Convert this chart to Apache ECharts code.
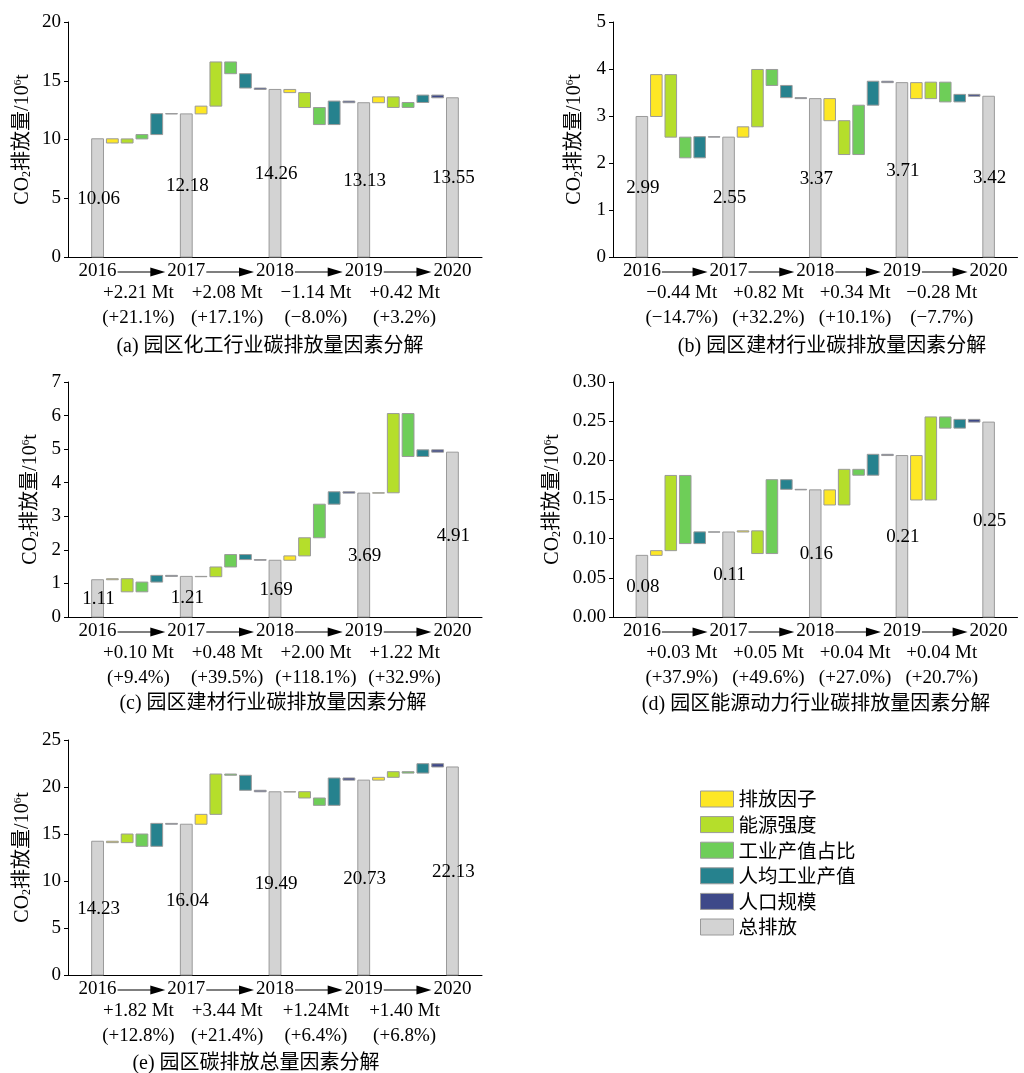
<!DOCTYPE html>
<html>
<head>
<meta charset="utf-8">
<script src="https://cdn.jsdelivr.net/npm/echarts@6/dist/echarts.min.js"></script>
<style>
  html, body { margin: 0; padding: 0; background: #fff; }
  #chart { width: 1024px; height: 1073px; }
</style>
</head>
<body>
<div id="chart"></div>
<script>
const FONT = '"Liberation Serif", "Times New Roman", "Noto Sans CJK SC", serif';

const factorNames = ['排放因子', '能源强度', '工业产值占比', '人均工业产值', '人口规模'];
const factorColors = ['#fde725', '#b5de2b', '#6ece58', '#26828e', '#3e4989'];
const totalName = '总排放';
const totalColor = '#d3d3d3';
const years = ['2016', '2017', '2018', '2019', '2020'];

// (a) chemical industry
const totalsA = [10.06, 12.18, 14.26, 13.13, 13.55];
const factorsA = [
  [-0.36, 0.35, 0.37, 1.78, -0.02],
  [0.66, 3.76, -1.00, -1.22, -0.12],
  [-0.27, -1.27, -1.45, 2.00, -0.14],
  [0.50, -0.90, 0.42, 0.63, -0.23]
];
const changeA = ['+2.21 Mt', '+2.08 Mt', '−1.14 Mt', '+0.42 Mt'];
const pctA = ['(+21.1%)', '(+17.1%)', '(−8.0%)', '(+3.2%)'];

// (b) building materials
const totalsB = [2.99, 2.55, 3.37, 3.71, 3.42];
const factorsB = [
  [0.89, -1.33, -0.44, 0.45, -0.01],
  [0.22, 1.22, -0.34, -0.26, -0.02],
  [-0.47, -0.72, 1.05, 0.51, -0.03],
  [-0.34, 0.35, -0.42, 0.16, -0.04]
];
const changeB = ['−0.44 Mt', '+0.82 Mt', '+0.34 Mt', '−0.28 Mt'];
const pctB = ['(−14.7%)', '(+32.2%)', '(+10.1%)', '(−7.7%)'];

// (c) building materials
const totalsC = [1.11, 1.21, 1.69, 3.69, 4.91];
const factorsC = [
  [0.03, -0.39, 0.29, 0.20, -0.03],
  [-0.01, 0.29, 0.37, -0.15, -0.02],
  [0.13, 0.54, 1.00, 0.37, -0.04],
  [0.01, 2.36, -1.28, 0.20, -0.07]
];
const changeC = ['+0.10 Mt', '+0.48 Mt', '+2.00 Mt', '+1.22 Mt'];
const pctC = ['(+9.4%)', '(+39.5%)', '(+118.1%)', '(+32.9%)'];

// (d) energy & power
const totalsD = [0.0787, 0.1085, 0.1623, 0.2061, 0.2488];
const factorsD = [
  [0.006, 0.096, -0.087, 0.015, -0.0002],
  [0.0015, -0.029, 0.0943, -0.0123, -0.0007],
  [-0.0193, 0.0455, -0.0075, 0.0267, -0.0016],
  [-0.0567, 0.106, -0.0143, 0.0112, -0.0035]
];
const changeD = ['+0.03 Mt', '+0.05 Mt', '+0.04 Mt', '+0.04 Mt'];
const pctD = ['(+37.9%)', '(+49.6%)', '(+27.0%)', '(+20.7%)'];

// (e) park total
const totalsE = [14.23, 16.04, 19.49, 20.73, 22.13];
const factorsE = [
  [-0.15, 0.92, -1.31, 2.44, -0.09],
  [1.05, 4.29, -0.13, -1.60, -0.16],
  [0.01, -0.67, -0.78, 2.91, -0.23],
  [0.30, 0.60, -0.15, 1.00, -0.35]
];
const changeE = ['+1.82 Mt', '+3.44 Mt', '+1.24Mt', '+1.40 Mt'];
const pctE = ['(+12.8%)', '(+21.4%)', '(+6.4%)', '(+6.8%)'];

const panels = [
  { totals: totalsA, factors: factorsA, change: changeA, pct: pctA, caption: '(a) 园区化工行业碳排放量因素分解',
    left: 68, top: 22, max: 20, interval: 5, digits: 0, nameGap: 35, capX: 270, capGap: 92 },
  { totals: totalsB, factors: factorsB, change: changeB, pct: pctB, caption: '(b) 园区建材行业碳排放量因素分解',
    left: 613, top: 22, max: 5, interval: 1, digits: 0, nameGap: 28, capX: 832, capGap: 92 },
  { totals: totalsC, factors: factorsC, change: changeC, pct: pctC, caption: '(c) 园区建材行业碳排放量因素分解',
    left: 68, top: 382, max: 7, interval: 1, digits: 0, nameGap: 27, capX: 273, capGap: 89 },
  { totals: totalsD, factors: factorsD, change: changeD, pct: pctD, caption: '(d) 园区能源动力行业碳排放量因素分解',
    left: 613, top: 382, max: 0.3, interval: 0.05, digits: 2, nameGap: 50, capX: 816, capGap: 90 },
  { totals: totalsE, factors: factorsE, change: changeE, pct: pctE, caption: '(e) 园区碳排放总量因素分解',
    left: 68, top: 740, max: 25, interval: 5, digits: 0, nameGap: 35, capX: 256, capGap: 91 }
];

const GRID_W = 414, GRID_H = 235, STEP = 6;

function barRender(params, api) {
  const x = api.value(0);
  const p0 = api.coord([x, api.value(1)]);
  const p1 = api.coord([x, api.value(2)]);
  const w = api.size([0.8, 0])[0];
  return {
    type: 'rect',
    shape: { x: p0[0] - w / 2, y: Math.min(p0[1], p1[1]), width: w, height: Math.max(Math.abs(p0[1] - p1[1]), 0.3) },
    style: { fill: api.visual('color'), stroke: '#9a9a9a', lineWidth: 1 }
  };
}

function totalRender(params, api) {
  const x = api.value(0);
  const p0 = api.coord([x, 0]);
  const p1 = api.coord([x, api.value(2)]);
  const w = api.size([0.8, 0])[0];
  return {
    type: 'group',
    children: [
      { type: 'rect', shape: { x: p0[0] - w / 2, y: p1[1], width: w, height: p0[1] - p1[1] },
        style: { fill: api.visual('color'), stroke: '#9a9a9a', lineWidth: 1 } },
      { type: 'text', x: p0[0] + 1, y: (p0[1] + p1[1]) / 2 + 1, z2: 100,
        style: { text: api.value(2).toFixed(2), fontSize: 19, fontFamily: FONT, fill: '#000',
          align: 'center', verticalAlign: 'middle', textAlign: 'center', textVerticalAlign: 'middle' } }
    ]
  };
}

function arrowRender(params, api) {
  const a = api.coord([api.value(0), 0]);
  const b = api.coord([api.value(2), 0]);
  const y = a[1] + 15;
  const x0 = a[0] + 20, x1 = b[0] - 21;
  return {
    type: 'group',
    children: [
      { type: 'line', shape: { x1: x0, y1: y, x2: x1 - 10, y2: y }, style: { stroke: '#000', lineWidth: 1.2 } },
      { type: 'polygon', shape: { points: [[x1 - 15, y - 4.5], [x1, y], [x1 - 15, y + 4.5]] }, style: { fill: '#000' } }
    ]
  };
}

const grid = [], xAxis = [], yAxis = [], series = [], title = [];

panels.forEach((p, i) => {
  grid.push({ left: p.left, top: p.top, width: GRID_W, height: GRID_H });

  const xBase = { type: 'value', gridIndex: i, min: -2, max: 26, interval: 1, position: 'bottom',
    splitLine: { show: false }, axisTick: { show: false } };
  xAxis.push(Object.assign({}, xBase, {
    axisLine: { show: true, onZero: false, lineStyle: { color: '#000', width: 1 } },
    axisLabel: { margin: 5, fontSize: 19, fontFamily: FONT, color: '#000',
      formatter: v => (v >= 0 && v % STEP === 0) ? years[v / STEP] : '' }
  }));
  xAxis.push(Object.assign({}, xBase, {
    axisLine: { show: false },
    axisLabel: { margin: 24, fontSize: 19, lineHeight: 24.5, fontFamily: FONT, color: '#000', padding: [0, 7, 0, 0],
      formatter: v => {
        const k = (v - 3) / STEP;
        return (Number.isInteger(k) && k >= 0 && k < 4) ? p.change[k] + '\n' + p.pct[k] : '';
      } }
  }));

  yAxis.push({
    type: 'value', gridIndex: i, min: 0, max: p.max, interval: p.interval,
    axisLine: { show: true, onZero: false, lineStyle: { color: '#000', width: 1 } },
    axisTick: { show: true, length: 4, lineStyle: { color: '#000' } },
    splitLine: { show: false },
    axisLabel: { margin: 7, fontSize: 19, fontFamily: FONT, color: '#000',
      formatter: v => v.toFixed(p.digits) },
    name: 'CO{s|2}排放量/10{p|6}t',
    nameLocation: 'middle', nameGap: p.nameGap,
    nameTextStyle: { fontSize: 20, fontFamily: FONT, color: '#000',
      rich: {
        s: { fontSize: 12, fontFamily: FONT, color: '#000', verticalAlign: 'bottom', lineHeight: 12 },
        p: { fontSize: 11, fontFamily: FONT, color: '#000', verticalAlign: 'top', lineHeight: 11 }
      } }
  });

  const factorData = factorNames.map(() => []);
  const totalData = [];
  p.totals.forEach((t, j) => {
    totalData.push([j * STEP, 0, t]);
    if (j < p.factors.length) {
      let level = t;
      p.factors[j].forEach((d, k) => {
        factorData[k].push([j * STEP + 1 + k, level, level + d]);
        level += d;
      });
    }
  });

  factorNames.forEach((name, k) => {
    series.push({ type: 'custom', name, xAxisIndex: i * 2, yAxisIndex: i, silent: true, clip: false,
      itemStyle: { color: factorColors[k] }, encode: { x: 0, y: [1, 2] },
      renderItem: barRender, data: factorData[k] });
  });
  series.push({ type: 'custom', name: totalName, xAxisIndex: i * 2, yAxisIndex: i, silent: true, clip: false,
    itemStyle: { color: totalColor }, encode: { x: 0, y: [1, 2] },
    renderItem: totalRender, data: totalData });
  series.push({ type: 'custom', xAxisIndex: i * 2, yAxisIndex: i, silent: true, clip: false,
    itemStyle: { color: '#000' }, encode: { x: 0, y: 1 },
    renderItem: arrowRender, data: [[0, 0, 6], [6, 0, 12], [12, 0, 18], [18, 0, 24]] });

  title.push({ text: p.caption, left: p.capX, top: p.top + GRID_H + p.capGap - 12, textAlign: 'center', padding: 0,
    textStyle: { fontSize: 20, fontWeight: 'normal', fontFamily: FONT, color: '#000' } });
});

const legendNames = factorNames.concat([totalName]);
const legendColors = factorColors.concat([totalColor]);

const chart = echarts.init(document.getElementById('chart'));
chart.setOption({
  animation: false,
  backgroundColor: '#fff',
  title,
  grid,
  xAxis,
  yAxis,
  legend: {
    orient: 'vertical', left: 700, top: 789, padding: 0, icon: 'rect', selectedMode: false,
    itemWidth: 33, itemHeight: 16, itemGap: 5.6,
    textStyle: { fontSize: 19.5, lineHeight: 20, fontFamily: '"Noto Sans CJK SC"', color: '#000' },
    data: legendNames.map((n, k) => ({ name: n, itemStyle: { color: legendColors[k], borderColor: '#9a9a9a', borderWidth: 1 } }))
  },
  series
});
</script>
</body>
</html>
